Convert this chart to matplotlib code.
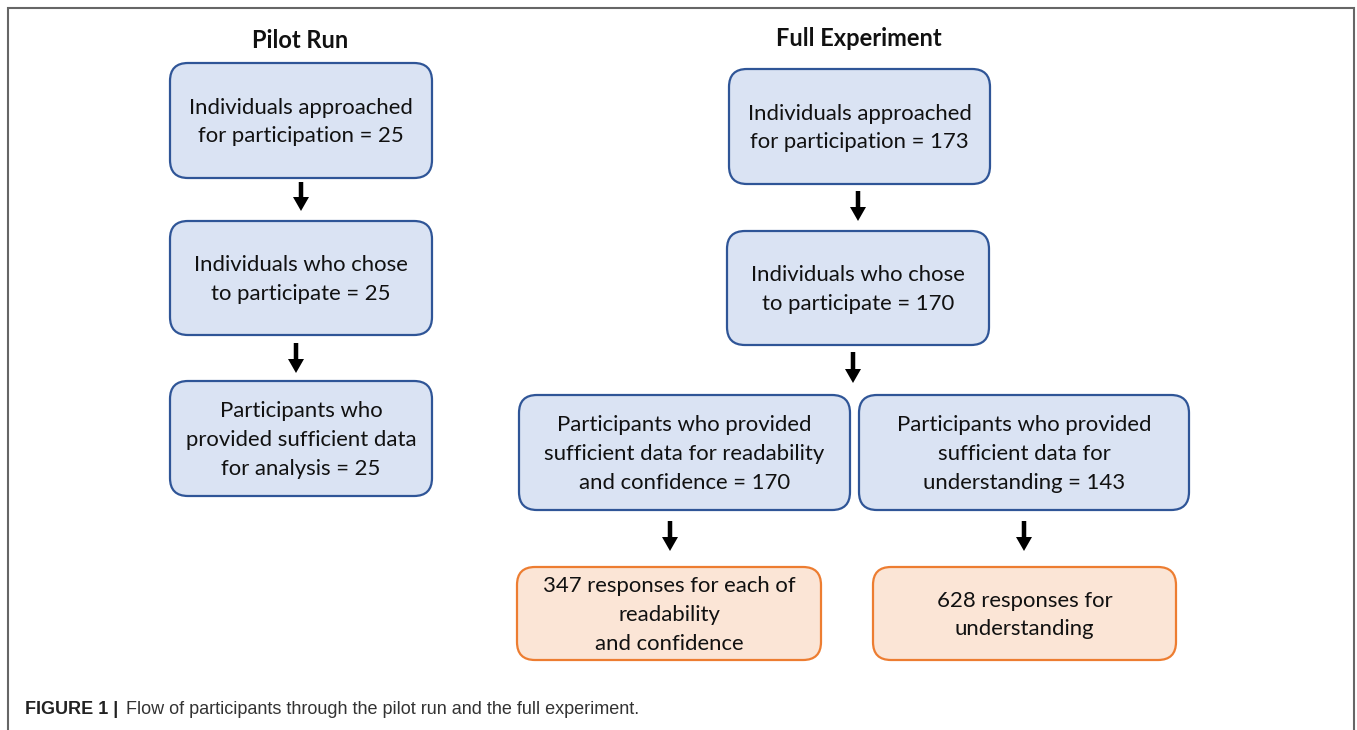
import matplotlib
matplotlib.use("Agg")
import matplotlib.pyplot as plt
from matplotlib.patches import FancyBboxPatch

W, H = 1357, 730

# ---- data ----
titles = ["Pilot Run", "Full Experiment"]
pilot_labels = [
    "Individuals approached\nfor participation = 25",
    "Individuals who chose\nto participate = 25",
    "Participants who\nprovided sufficient data\nfor analysis = 25",
]
full_labels = [
    "Individuals approached\nfor participation = 173",
    "Individuals who chose\nto participate = 170",
    "Participants who provided\nsufficient data for readability\nand confidence = 170",
    "Participants who provided\nsufficient data for\nunderstanding = 143",
]
outcome_labels = [
    "347 responses for each of\nreadability\nand confidence",
    "628 responses for\nunderstanding",
]
caption_bold = "FIGURE 1 |"
caption_text = "Flow of participants through the pilot run and the full experiment."

# ---- layout (pixel coordinates) ----
BLUE_FC, BLUE_EC = "#dae3f3", "#2f5597"
ORANGE_FC, ORANGE_EC = "#fbe5d6", "#ed7d31"
BOX_FONT = ["Lato", "DejaVu Sans"]

fig = plt.figure(figsize=(W / 100, H / 100), dpi=100)
ax = fig.add_axes([0, 0, 1, 1])
ax.set_xlim(0, W)
ax.set_ylim(H, 0)
ax.axis("off")

# outer frame (open at bottom)
ax.plot([8, 8, 1354, 1354], [730, 8, 8, 730], color="#666666", lw=1.5,
        solid_joinstyle="miter")


def box(x0, y0, x1, y1, label, fc, ec, fs=15.9):
    p = FancyBboxPatch((x0, y0), x1 - x0, y1 - y0,
                       boxstyle="round,pad=0,rounding_size=18",
                       fc=fc, ec=ec, lw=1.6, mutation_aspect=1)
    ax.add_patch(p)
    ax.text((x0 + x1) / 2, (y0 + y1) / 2 + 1.5, label, ha="center", va="center",
            fontsize=fs, family=BOX_FONT, color="#111111", linespacing=1.55)


def arrow(x, y0, y1):
    ax.arrow(x, y0, 0, y1 - y0, width=4.5, head_width=16, head_length=14,
             length_includes_head=True, fc="black", ec="black", lw=0)


# titles
ax.text(300, 40, titles[0], ha="center", va="center", fontsize=17,
        fontweight="bold", family=BOX_FONT, color="#111111")
ax.text(859, 38, titles[1], ha="center", va="center", fontsize=17,
        fontweight="bold", family=BOX_FONT, color="#111111")

# pilot column
pilot_boxes = [(170, 63, 432, 178), (170, 221, 432, 335), (170, 381, 432, 496)]
for (b, lab) in zip(pilot_boxes, pilot_labels):
    box(*b, lab, BLUE_FC, BLUE_EC)
arrow(301, 182, 211)
arrow(296, 343, 373)

# full experiment column
full_boxes = [(729, 69, 990, 184), (727, 231, 989, 345),
              (519, 395, 850, 510), (859, 395, 1189, 510)]
for (b, lab) in zip(full_boxes, full_labels):
    box(*b, lab, BLUE_FC, BLUE_EC)
arrow(858, 191, 221)
arrow(853, 352, 383)

out_boxes = [(517, 567, 821, 660), (873, 567, 1176, 660)]
for (b, lab) in zip(out_boxes, outcome_labels):
    box(*b, lab, ORANGE_FC, ORANGE_EC)
arrow(670, 521, 551)
arrow(1024, 521, 551)

# caption
cap_font = ["Liberation Sans Narrow", "Liberation Sans", "DejaVu Sans"]
t1 = ax.text(25, 709, caption_bold, ha="left", va="center", fontsize=13,
             fontweight="bold", family=cap_font, color="#222222")
fig.canvas.draw()
bb = t1.get_window_extent()
x_next = bb.x1 + 8
ax.text(x_next, H - 709, caption_text, ha="left", va="center", fontsize=13,
        family=cap_font, color="#333333", transform=None)

fig.savefig("out.png", dpi=100)
